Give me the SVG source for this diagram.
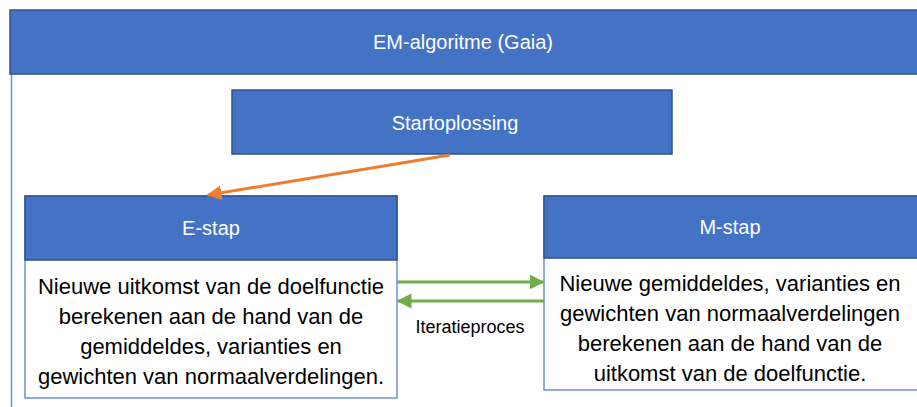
<svg xmlns="http://www.w3.org/2000/svg" width="917" height="407" viewBox="0 0 917 407">
<defs>
<style>
.hdr{fill:#4472C4;stroke:#2F528F;stroke-width:1.5}
.box{fill:#FFFFFF;stroke:#6F8FD3;stroke-width:1.5}
.wt{font-family:"Liberation Sans",Arial,sans-serif;font-size:20px;fill:#FFFFFF;text-anchor:middle}
.bt{font-family:"Liberation Sans",Arial,sans-serif;font-size:22px;fill:#000000;text-anchor:middle}
.lt{font-family:"Liberation Sans",Arial,sans-serif;font-size:18px;fill:#000000;text-anchor:middle}
</style>
<marker id="ao" viewBox="0 0 10 10" refX="9" refY="5" markerWidth="5" markerHeight="5" orient="auto" markerUnits="strokeWidth"><path d="M0,0 L10,5 L0,10 z" fill="#ED7D31"/></marker>
<marker id="ag" viewBox="0 0 10 10" refX="9" refY="5" markerWidth="5" markerHeight="5" orient="auto" markerUnits="strokeWidth"><path d="M0,0 L10,5 L0,10 z" fill="#70AD47"/></marker>
</defs>
<rect width="917" height="407" fill="#FFFFFF"/>
<g id="frame">
<line x1="11.5" y1="74" x2="11.5" y2="407" stroke="#6F8FD3" stroke-width="1.5"/>
<rect class="hdr" x="10" y="10" width="910" height="64"/>
<text class="wt" x="463" y="49">EM-algoritme (Gaia)</text>
</g>
<g id="start">
<rect class="hdr" x="232" y="90" width="440" height="64"/>
<text class="wt" x="455" y="130">Startoplossing</text>
</g>
<g id="estap">
<rect class="box" x="25" y="196" width="372" height="202"/>
<rect class="hdr" x="25" y="196" width="372" height="64"/>
<text class="wt" x="211" y="235">E-stap</text>
<text class="bt" x="211" y="294">Nieuwe uitkomst van de doelfunctie</text>
<text class="bt" x="211" y="324">berekenen aan de hand van de</text>
<text class="bt" x="211" y="354">gemiddeldes, varianties en</text>
<text class="bt" x="211" y="384">gewichten van normaalverdelingen.</text>
</g>
<g id="mstap">
<rect class="box" x="544" y="196" width="380" height="194"/>
<rect class="hdr" x="544" y="196" width="380" height="62"/>
<text class="wt" x="730" y="234">M-stap</text>
<text class="bt" x="730" y="291">Nieuwe gemiddeldes, varianties en</text>
<text class="bt" x="730" y="321">gewichten van normaalverdelingen</text>
<text class="bt" x="730" y="351">berekenen aan de hand van de</text>
<text class="bt" x="730" y="381">uitkomst van de doelfunctie.</text>
</g>
<g id="connectors">
<line x1="450" y1="155" x2="208" y2="195" stroke="#ED7D31" stroke-width="3" marker-end="url(#ao)"/>
<line x1="397" y1="282" x2="543" y2="282" stroke="#70AD47" stroke-width="3" marker-end="url(#ag)"/>
<line x1="544" y1="301" x2="398" y2="301" stroke="#70AD47" stroke-width="3" marker-end="url(#ag)"/>
<text class="lt" x="470" y="333">Iteratieproces</text>
</g>
</svg>
